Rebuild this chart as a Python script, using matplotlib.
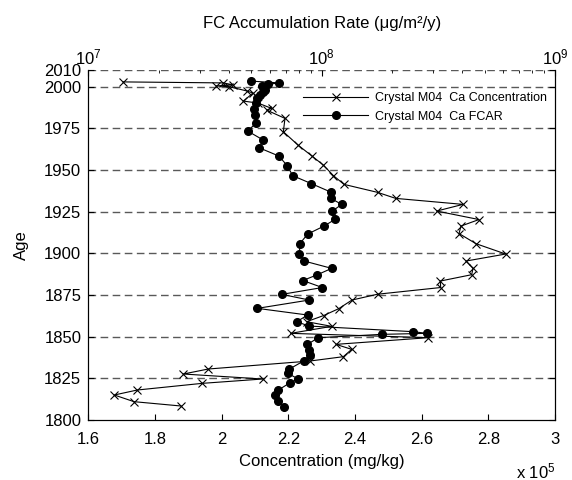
import numpy as np
import matplotlib
matplotlib.use("Agg")
import matplotlib.pyplot as plt

plt.rcParams['font.family'] = ['Liberation Sans', 'DejaVu Sans']
plt.rcParams['mathtext.fontset'] = 'custom'
plt.rcParams['mathtext.rm'] = 'Liberation Sans'
plt.rcParams['mathtext.it'] = 'Liberation Sans:italic'

# Ca concentration (x 1e5 mg/kg) vs age
conc_year = [2002.9, 2002.3, 2001.1, 2000.5, 2000.0, 1997.5, 1996.2, 1991.4, 1990.2, 1987.0,
             1986.0, 1981.0, 1973.0, 1965.0, 1958.4, 1953.0, 1946.7, 1941.4, 1936.6, 1933.0,
             1929.4, 1925.4, 1920.3, 1916.4, 1911.9, 1905.8, 1899.6, 1895.4, 1891.0, 1887.2,
             1883.4, 1879.5, 1875.5, 1872.0, 1866.8, 1862.7, 1859.0, 1856.2, 1852.0, 1849.4,
             1845.4, 1842.4, 1838.0, 1835.4, 1830.6, 1827.6, 1824.6, 1822.0, 1818.0, 1815.0,
             1811.0, 1808.4]
conc = [1.705, 2.005, 2.035, 1.983, 2.023, 2.075, 2.094, 2.065, 2.109, 2.15,
        2.135, 2.19, 2.185, 2.229, 2.271, 2.305, 2.335, 2.367, 2.468, 2.522,
        2.724, 2.645, 2.772, 2.718, 2.712, 2.763, 2.852, 2.733, 2.754, 2.75,
        2.656, 2.657, 2.468, 2.391, 2.351, 2.306, 2.255, 2.33, 2.207, 2.62,
        2.343, 2.39, 2.365, 2.265, 1.96, 1.885, 2.123, 1.942, 1.747, 1.678,
        1.737, 1.878]

# Ca FCAR (x 1e7 ug/m2/y) vs age
fcar_year = [2003.4, 2002.3, 2001.4, 2000.4, 1998.0, 1997.0, 1995.0, 1993.0, 1990.0, 1986.4,
             1983.0, 1978.3, 1973.4, 1968.0, 1963.3, 1958.4, 1952.7, 1946.6, 1941.9, 1936.8,
             1933.0, 1929.4, 1925.4, 1920.4, 1916.4, 1911.6, 1905.9, 1899.9, 1895.4, 1891.0,
             1887.2, 1883.7, 1879.5, 1875.4, 1872.0, 1867.0, 1863.0, 1859.0, 1856.4, 1853.0,
             1852.0, 1851.4, 1849.4, 1845.4, 1842.0, 1839.0, 1835.4, 1830.6, 1828.0, 1824.6,
             1822.4, 1818.0, 1815.0, 1811.4, 1808.0]
fcar = [4.98, 6.56, 5.91, 5.53, 5.71, 5.60, 5.45, 5.27, 5.24, 5.13,
        5.18, 5.24, 4.82, 5.62, 5.41, 6.56, 7.11, 7.52, 9.02, 10.94,
        10.94, 12.19, 11.11, 11.41, 10.24, 8.71, 8.07, 8.03, 8.41, 11.04,
        9.59, 8.30, 10.07, 6.75, 8.85, 5.30, 8.71, 7.82, 8.81, 24.7,
        28.2, 18.1, 9.68, 8.69, 8.85, 8.91, 8.36, 7.28, 7.16, 7.94,
        7.33, 6.52, 6.31, 6.52, 6.92]

year_ticks = [1800, 1825, 1850, 1875, 1900, 1925, 1950, 1975, 2000, 2010]
conc_ticks = [1.6, 1.8, 2.0, 2.2, 2.4, 2.6, 2.8, 3.0]
conc_labels = ['1.6', '1.8', '2', '2.2', '2.4', '2.6', '2.8', '3']

fig = plt.figure(figsize=(5.72, 4.8), dpi=100)
ax = fig.add_axes([0.1544, 0.125, 0.8159, 0.729])

for yv in year_ticks[1:]:
    ax.axhline(yv, color='0.35', lw=1.0, dashes=(5.5, 3.2), zorder=0)

l1, = ax.plot(conc, conc_year, '-', color='k', lw=0.8, marker='x', ms=6, mew=0.8,
              label='Crystal M04  Ca Concentration')
ax.set_xlim(1.6, 3.0)
ax.set_ylim(1800, 2010)
ax.set_xticks(conc_ticks)
ax.set_xticklabels(conc_labels)
ax.set_yticks(year_ticks)
ax.tick_params(direction='in', labelsize=12, length=4, width=0.8)
ax.tick_params(axis='x', pad=9)
ax.tick_params(axis='y', right=True, pad=5)
ax.set_xlabel('Concentration (mg/kg)', fontsize=12, labelpad=5)
ax.set_ylabel('Age', fontsize=12, labelpad=11)
ax.spines['top'].set_visible(False)

ax2 = ax.twiny()
l2, = ax2.plot(np.array(fcar) * 1e7, fcar_year, '-', color='k', lw=0.8, marker='o', ms=5.5,
               label='Crystal M04  Ca FCAR')
ax2.set_xscale('log')
ax2.set_xlim(1e7, 1e9)
ax2.set_ylim(1800, 2010)
ax2.tick_params(direction='in', labelsize=12, length=4, width=0.8, pad=2)
ax2.tick_params(which='minor', direction='in', length=2.5, width=0.6)
ax2.spines['top'].set_visible(False)
ax2.set_xlabel('FC Accumulation Rate (μg/m²/y)', fontsize=12, labelpad=14)

ax2.legend(handles=[l1, l2], loc='upper right', bbox_to_anchor=(0.999, 0.958),
           frameon=False, fontsize=9, handlelength=5.2, handletextpad=0.55,
           labelspacing=0.5, borderaxespad=0.2)

fig.text(0.902, 0.004, 'x 10$^5$', fontsize=12, va='baseline')

fig.savefig('out.png', dpi=100)
